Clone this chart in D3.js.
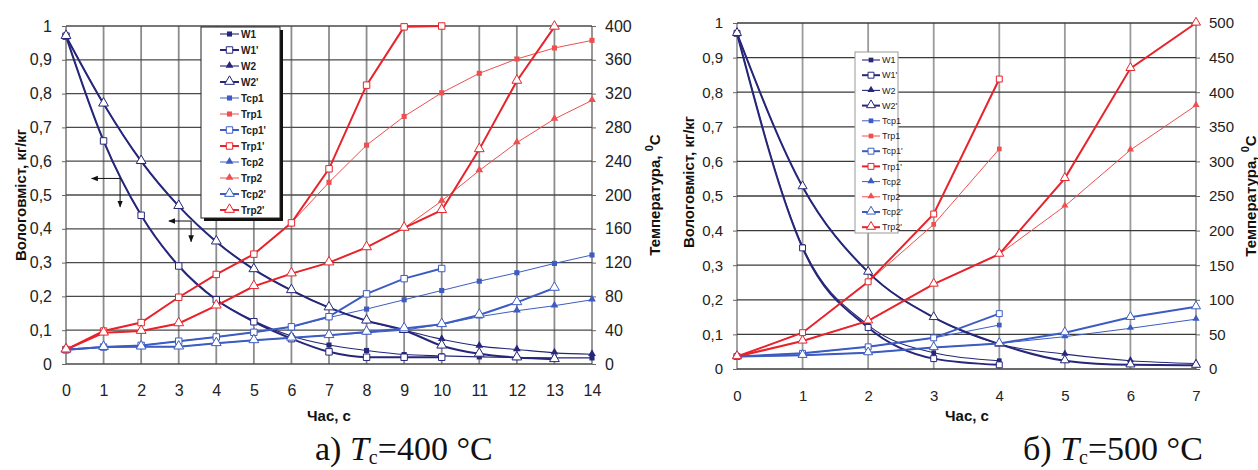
<!DOCTYPE html>
<meta charset="utf-8">
<style>
body { margin: 0; background: #fff; font-family: "Liberation Sans", Arial, sans-serif; }
svg { display: block; }
.tick text { fill: #222; }
.axis-title { font-weight: bold; fill: #111; }
.caption { font-family: "Liberation Serif", "Times New Roman", serif; font-size: 34px; fill: #111; }
</style>
<body>
<script src="https://d3js.org/d3.v7.min.js"></script>
<script>

// legend order, same in both charts
let legendNames = ["W1", "W1'", "W2", "W2'", "Tcp1", "Trp1", "Tcp1'", "Trp1'", "Tcp2", "Trp2", "Tcp2'", "Trp2'"];

let moistTicks = [0, 0.1, 0.2, 0.3, 0.4, 0.5, 0.6, 0.7, 0.8, 0.9, 1];

// а) Tc = 400 °C
let timeA = [0, 1, 2, 3, 4, 5, 6, 7, 8, 9, 10, 11, 12, 13, 14];
let w1A   = [0.97, 0.66, 0.44, 0.29, 0.19, 0.128, 0.083, 0.056, 0.04, 0.028, 0.024, 0.021, 0.019, 0.018, 0.018];
let w1pA  = [0.97, 0.66, 0.44, 0.29, 0.19, 0.125, 0.075, 0.036, 0.02, 0.02, 0.02];
let w2A   = [0.97, 0.77, 0.6, 0.467, 0.362, 0.28, 0.218, 0.167, 0.128, 0.1, 0.073, 0.053, 0.043, 0.033, 0.029];
let w2pA  = [0.97, 0.77, 0.6, 0.467, 0.362, 0.28, 0.218, 0.167, 0.128, 0.1, 0.054, 0.03, 0.019, 0.014];
let tcp1A  = [17, 20, 22, 27, 32, 37.5, 44, 55, 65, 76, 87, 98, 108, 119, 129];
let tcp1pA = [17, 20, 22, 27, 32, 37.5, 44, 56, 83, 101, 113];
let trp1A  = [17, 39, 49, 79, 106, 130, 167, 215, 259, 293, 321, 344, 361, 374, 383];
let trp1pA = [17, 39, 49, 79, 106, 130, 167, 231, 330, 399, 400];
let tcp2A  = [17, 20, 20.5, 20.5, 24.5, 28, 31, 34, 37, 40, 47, 56, 63, 69, 76];
let tcp2pA = [17, 20, 20.5, 20.5, 24.5, 28, 31, 34, 38, 42, 47, 58, 73, 90];
let trp2A  = [17, 37, 39, 48, 69, 92, 107, 120, 138, 161, 193, 229, 262, 290, 312];
let trp2pA = [17, 37, 39, 48, 69, 92, 107, 120, 138, 161, 182, 254, 335, 399];
let tempTicksA = [0, 40, 80, 120, 160, 200, 240, 280, 320, 360, 400];

// б) Tc = 500 °C
let timeB = [0, 1, 2, 3, 4, 5, 6, 7];
let w1B   = [0.97, 0.354, 0.127, 0.047, 0.024];
let w1pB  = [0.97, 0.35, 0.12, 0.03, 0.012];
let w2B   = [0.97, 0.527, 0.28, 0.149, 0.072, 0.043, 0.024, 0.016];
let w2pB  = [0.97, 0.527, 0.28, 0.149, 0.072, 0.024, 0.012, 0.011];
let tcp1B  = [18, 22.6, 32, 45, 63.5];
let tcp1pB = [18, 22.6, 32, 45, 80];
let trp1B  = [18, 52.5, 126, 209, 318];
let trp1pB = [18, 52.5, 126, 224, 419];
let tcp2B  = [18, 19.8, 23.6, 31, 37, 46.7, 58.8, 72];
let tcp2pB = [18, 19.8, 23.6, 31, 37, 52.5, 74.7, 90];
let trp2B  = [18, 40.5, 69.6, 122.8, 166, 235.5, 316.5, 381];
let trp2pB = [18, 40.5, 69.6, 122.8, 166, 275.5, 434.5, 500];
let tempTicksB = [0, 50, 100, 150, 200, 250, 300, 350, 400, 450, 500];

let navy = "#26267a", blue = "#3d5cc2", red = "#e8232b", redThin = "#ee5050";

let style = {
	"W1":    { color: navy, w: 1.1, mark: "sq",  open: false },
	"W1'":   { color: navy, w: 2,   mark: "sq",  open: true },
	"W2":    { color: navy, w: 1.1, mark: "tri", open: false },
	"W2'":   { color: navy, w: 2,   mark: "tri", open: true },
	"Tcp1":  { color: blue, w: 1,   mark: "sq",  open: false },
	"Trp1":  { color: redThin, w: 1, mark: "sq", open: false },
	"Tcp1'": { color: blue, w: 2,   mark: "sq",  open: true },
	"Trp1'": { color: red,  w: 2,   mark: "sq",  open: true },
	"Tcp2":  { color: blue, w: 1,   mark: "tri", open: false },
	"Trp2":  { color: redThin, w: 1, mark: "tri", open: false },
	"Tcp2'": { color: blue, w: 2,   mark: "tri", open: true },
	"Trp2'": { color: red,  w: 2,   mark: "tri", open: true }
};

function seriesOf(time, w1, w1p, w2, w2p, tcp1, trp1, tcp1p, trp1p, tcp2, trp2, tcp2p, trp2p) {
	let vals = [w1, w1p, w2, w2p, tcp1, trp1, tcp1p, trp1p, tcp2, trp2, tcp2p, trp2p];
	return legendNames.map(function(name, i) {
		return {
			name: name,
			axis: name[0] === "W" ? "w" : "t",
			points: vals[i].map(function(v, j) { return [time[j], v]; })
		};
	});
}

let svg = d3.select("body").append("svg")
	.attr("width", 1258)
	.attr("height", 470);

function marker(g, st, x, y, size) {
	let sym = d3.symbol()
		.type(st.mark === "sq" ? d3.symbolSquare : d3.symbolTriangle)
		.size(st.open ? size * 1.6 : size);
	g.append("path")
		.attr("d", sym())
		.attr("transform", "translate(" + x + "," + (st.mark === "tri" ? y - 0.5 : y) + ")")
		.attr("fill", st.open ? "#fff" : st.color)
		.attr("stroke", st.open ? st.color : "none")
		.attr("stroke-width", 1);
}

function moistFmt(d) {
	return (d === 0 || d === 1) ? String(d) : d3.format(".1f")(d).replace(".", ",");
}

function drawChart(c) {
	let g = svg.append("g");
	let x = d3.scaleLinear().domain([0, c.xMax]).range([c.left, c.right]);
	let yW = d3.scaleLinear().domain([0, 1]).range([c.bottom, c.top]);
	let yT = d3.scaleLinear().domain([0, c.tMax]).range([c.bottom, c.top]);

	// grid
	g.append("g").selectAll("line").data(c.time).join("line")
		.attr("x1", d => x(d)).attr("x2", d => x(d))
		.attr("y1", c.top).attr("y2", c.bottom)
		.attr("stroke", c.vGrid).attr("stroke-width", 1.8);
	g.append("g").selectAll("line").data(moistTicks).join("line")
		.attr("x1", c.left).attr("x2", c.right)
		.attr("y1", d => yW(d)).attr("y2", d => yW(d))
		.attr("stroke", c.hGrid).attr("stroke-width", 1.3);

	// axes
	let axL = g.append("g").attr("transform", "translate(" + c.left + ",0)")
		.call(d3.axisLeft(yW).tickValues(moistTicks).tickFormat(moistFmt).tickSize(4).tickPadding(c.padL));
	let axR = g.append("g").attr("transform", "translate(" + c.right + ",0)")
		.call(d3.axisRight(yT).tickValues(c.tempTicks).tickSize(4).tickPadding(c.padR));
	let axB = g.append("g").attr("transform", "translate(0," + c.bottom + ")")
		.call(d3.axisBottom(x).tickValues(c.time).tickFormat(d3.format("d")).tickSize(0).tickPadding(21));
	[axL, axR, axB].forEach(function(a) {
		a.select(".domain").remove();
		a.selectAll("line").attr("stroke", "#666");
		a.selectAll("text").attr("font-size", c.tickFont).attr("font-family", "Liberation Sans, Arial, sans-serif");
	});

	// series
	let lineW = d3.line().x(d => x(d[0])).y(d => yW(d[1])).curve(d3.curveMonotoneX);
	let lineT = d3.line().x(d => x(d[0])).y(d => yT(d[1]));
	let series = c.series.slice().sort((a, b) => style[a.name].w - style[b.name].w);
	series.forEach(function(s) {
		let st = style[s.name];
		g.append("path")
			.attr("d", s.axis === "w" ? lineW(s.points) : lineT(s.points))
			.attr("fill", "none")
			.attr("stroke", st.color)
			.attr("stroke-width", st.w);
	});
	series.forEach(function(s) {
		let st = style[s.name];
		let y = s.axis === "w" ? yW : yT;
		s.points.forEach(function(p) {
			marker(g, st, x(p[0]), y(p[1]), c.markSize);
		});
	});

	// axis titles
	g.append("text").attr("class", "axis-title")
		.attr("font-size", c.titleFont)
		.attr("text-anchor", "middle")
		.attr("transform", "translate(" + c.wTitleX + "," + c.wTitleY + ") rotate(-90)")
		.text("Вологовміст, кг/кг");
	let tr = g.append("text").attr("class", "axis-title")
		.attr("font-size", c.titleFont)
		.attr("text-anchor", "middle")
		.attr("transform", "translate(" + c.tTitleX + "," + ((c.top + c.bottom) / 2) + ") rotate(-90)");
	tr.append("tspan").text("Температура, ");
	tr.append("tspan").attr("dy", -7).attr("font-size", c.titleFont - 4).text("0");
	tr.append("tspan").attr("dy", 7).text("C");
	g.append("text").attr("class", "axis-title")
		.attr("font-size", c.titleFont)
		.attr("x", c.xTitleX).attr("y", 421)
		.text("Час, с");

	// legend
	let lg = g.append("g");
	if (c.legendShadow) {
		lg.append("rect")
			.attr("x", c.lgX + 3).attr("y", c.lgY + 3)
			.attr("width", c.lgW).attr("height", c.lgH)
			.attr("fill", "#111");
	}
	lg.append("rect")
		.attr("x", c.lgX).attr("y", c.lgY)
		.attr("width", c.lgW).attr("height", c.lgH)
		.attr("fill", "#fff")
		.attr("stroke", c.legendShadow ? "#222" : "#999")
		.attr("stroke-width", 1);
	legendNames.forEach(function(name, i) {
		let st = style[name];
		let yy = c.lgY + c.lgFirst + i * c.lgStep;
		lg.append("line")
			.attr("x1", c.lgX + c.lgLine0).attr("x2", c.lgX + c.lgLine1)
			.attr("y1", yy).attr("y2", yy)
			.attr("stroke", st.color).attr("stroke-width", st.w);
		marker(lg, st, c.lgX + (c.lgLine0 + c.lgLine1) / 2, yy, c.markSize);
		lg.append("text")
			.attr("x", c.lgX + c.lgLine1 + 2).attr("y", yy)
			.attr("dy", "0.35em")
			.attr("font-size", c.lgFont)
			.attr("font-weight", c.lgBold ? "bold" : "normal")
			.attr("fill", "#222")
			.text(name);
	});

	// caption
	let cap = g.append("text").attr("class", "caption").attr("x", c.capX).attr("y", 460);
	cap.append("tspan").text(c.capLetter + ") ");
	cap.append("tspan").attr("font-style", "italic").text("T");
	cap.append("tspan").attr("font-size", 20).attr("dy", 4).text("c");
	cap.append("tspan").attr("dy", -4).text("=" + c.capTemp + " °C");

	return { x: x, yW: yW, g: g };
}

let chartA = drawChart({
	time: timeA, xMax: 14, tMax: 400, tempTicks: tempTicksA,
	left: 66, right: 592, top: 26, bottom: 364,
	vGrid: "#8c8c8c", hGrid: "#4a4a4a",
	padL: 10, padR: 9, tickFont: 16, titleFont: 15, markSize: 26,
	wTitleX: 26, wTitleY: 195, tTitleX: 660, xTitleX: 307,
	series: seriesOf(timeA, w1A, w1pA, w2A, w2pA, tcp1A, trp1A, tcp1pA, trp1pA, tcp2A, trp2A, tcp2pA, trp2pA),
	legendShadow: true, lgX: 201, lgY: 27, lgW: 79, lgH: 191,
	lgFirst: 7, lgStep: 16, lgLine0: 19, lgLine1: 38, lgFont: 10, lgBold: true,
	capX: 315, capLetter: "а", capTemp: "400"
});

drawChart({
	time: timeB, xMax: 7, tMax: 500, tempTicks: tempTicksB,
	left: 737, right: 1196, top: 23, bottom: 369,
	vGrid: "#9a9a9a", hGrid: "#3a3a3a",
	padL: 10, padR: 9, tickFont: 15, titleFont: 15, markSize: 22,
	wTitleX: 694, wTitleY: 182, tTitleX: 1256, xTitleX: 945,
	series: seriesOf(timeB, w1B, w1pB, w2B, w2pB, tcp1B, trp1B, tcp1pB, trp1pB, tcp2B, trp2B, tcp2pB, trp2pB),
	legendShadow: false, lgX: 855, lgY: 52, lgW: 43, lgH: 181,
	lgFirst: 8, lgStep: 15.2, lgLine0: 7, lgLine1: 25, lgFont: 9, lgBold: false,
	capX: 1023, capLetter: "б", capTemp: "500"
});

// direction arrows in chart а), placed in data units
let arrows = [
	{ from: [0.68, 0.549], corner: [1.44, 0.549], to: [1.44, 0.465] },
	{ from: [2.74, 0.423], corner: [3.33, 0.423], to: [3.33, 0.362] }
];
svg.append("defs").append("marker")
	.attr("id", "head").attr("viewBox", "0 0 10 10")
	.attr("refX", 9).attr("refY", 5)
	.attr("markerWidth", 7).attr("markerHeight", 7)
	.attr("orient", "auto-start-reverse")
	.append("path").attr("d", "M0,1 L10,5 L0,9 Z").attr("fill", "#111");
arrows.forEach(function(a) {
	let xa = chartA.x, ya = chartA.yW;
	chartA.g.append("path")
		.attr("d", d3.line()([[xa(a.from[0]), ya(a.from[1])], [xa(a.corner[0]), ya(a.corner[1])], [xa(a.to[0]), ya(a.to[1])]]))
		.attr("fill", "none").attr("stroke", "#111").attr("stroke-width", 1)
		.attr("marker-start", "url(#head)")
		.attr("marker-end", "url(#head)");
});

</script>
</body>
